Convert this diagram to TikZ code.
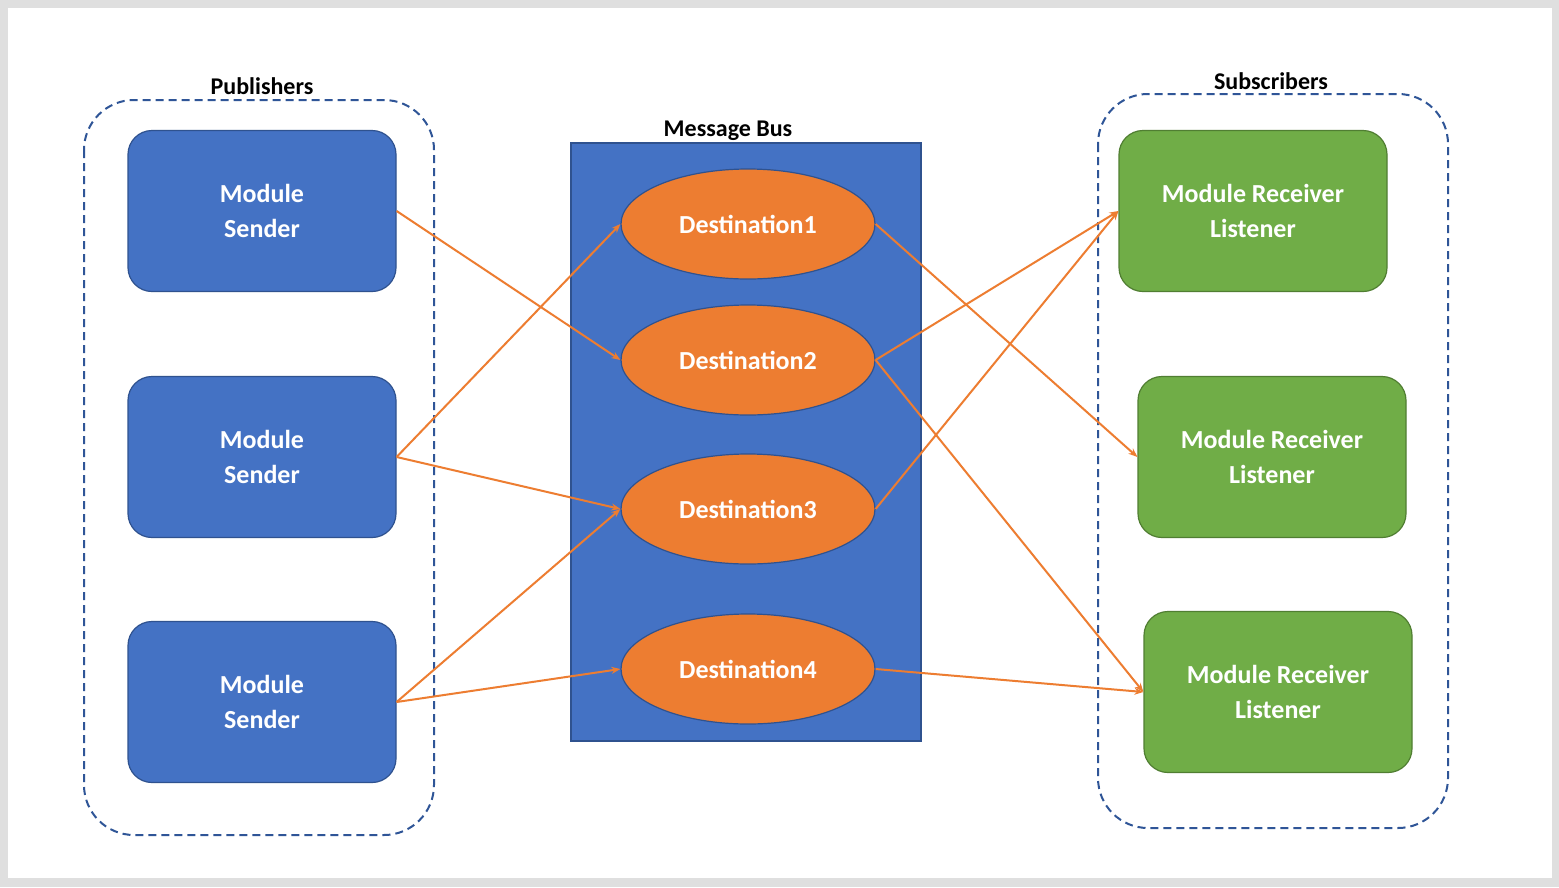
\documentclass[tikz,border=0pt]{standalone}
\usepackage{fontspec}
\setmainfont{Carlito}
\usetikzlibrary{shapes.geometric,arrows.meta}
\definecolor{bblue}{HTML}{4472C4}
\definecolor{bdark}{HTML}{2F528F}
\definecolor{dash}{HTML}{2F5597}
\definecolor{org}{HTML}{ED7D31}
\definecolor{orgd}{HTML}{AE5A21}
\definecolor{grn}{HTML}{70AD47}
\definecolor{grnd}{HTML}{507E32}
\begin{document}
\begin{tikzpicture}[x=1pt,y=-1pt,
  box/.style={draw=bdark,line width=1.2pt,rounded corners=24pt,minimum width=268pt,minimum height=161pt,text=white,font=\fontsize{26}{35}\selectfont\bfseries,align=center},
  snd/.style={box,fill=bblue},
  rcv/.style={box,fill=grn,draw=grnd},
  dst/.style={ellipse,draw=bdark,line width=1.2pt,fill=org,minimum width=254pt,minimum height=110pt,text=white,font=\fontsize{26}{32}\selectfont\bfseries},
  grp/.style={draw=dash,dashed,line width=2pt,rounded corners=50pt,dash pattern=on 8pt off 5pt},
  lbl/.style={font=\fontsize{24}{28}\selectfont\bfseries},
  arr/.style={draw=org,line width=2pt,-{Stealth[length=9pt,width=7pt]}}]
\fill[gray!25] (0,0) rectangle (1559,887);
\fill[white] (8,8) rectangle (1552,878);
\useasboundingbox (0,0) rectangle (1559,887);
\draw[grp] (84,100) rectangle (434,835);
\draw[grp] (1098,94) rectangle (1448,828);
\node[lbl] (pub) at (262,86) {Publishers};
\node[lbl] (sub) at (1271,81) {Subscribers};
\node[draw=bdark,line width=1.2pt,fill=bblue,minimum width=350pt,minimum height=598pt] (bus) at (746,442) {};
\node[lbl] (mb) at (728,131) {Message Bus};
\node[snd] (s1) at (262,211) {Module\\Sender};
\node[snd] (s2) at (262,457) {Module\\Sender};
\node[snd] (s3) at (262,702) {Module\\Sender};
\node[dst] (d1) at (748,224) {Destination1};
\node[dst] (d2) at (748,360) {Destination2};
\node[dst] (d3) at (748,509) {Destination3};
\node[dst] (d4) at (748,669) {Destination4};
\node[rcv] (r1) at (1253,211) {Module Receiver\\Listener};
\node[rcv] (r2) at (1272,457) {Module Receiver\\Listener};
\node[rcv] (r3) at (1278,692) {Module Receiver\\Listener};
\draw[arr] (s1.east) -- (d2.west);
\draw[arr] (s2.east) -- (d1.west);
\draw[arr] (s2.east) -- (d3.west);
\draw[arr] (s3.east) -- (d3.west);
\draw[arr] (s3.east) -- (d4.west);
\draw[arr] (d1.east) -- (r2.west);
\draw[arr] (d2.east) -- (r1.west);
\draw[arr] (d2.east) -- (r3.west);
\draw[arr] (d3.east) -- (r1.west);
\draw[arr] (d4.east) -- (r3.west);
\end{tikzpicture}
\end{document}
